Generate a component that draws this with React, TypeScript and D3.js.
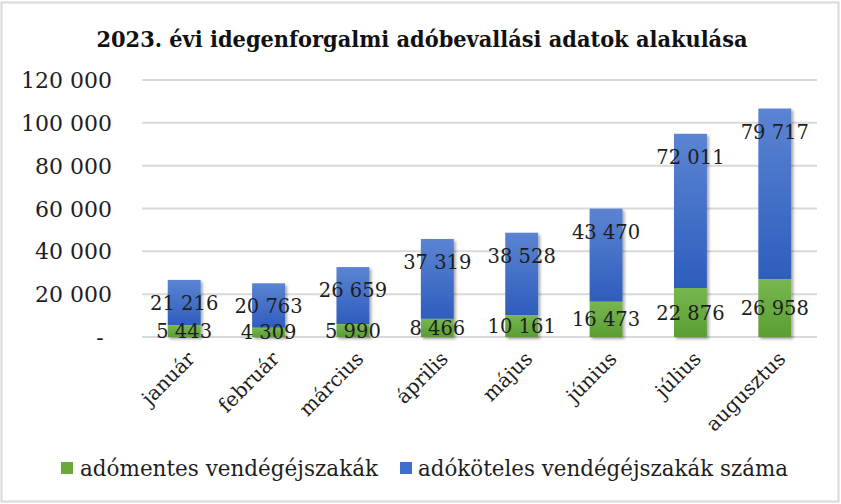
import React from "react";
import * as d3 from "d3";

const categories = ["január", "február", "március", "április", "május", "június", "július", "augusztus"];
const exemptNights = [5443, 4309, 5990, 8466, 10161, 16473, 22876, 26958];
const taxableNights = [21216, 20763, 26659, 37319, 38528, 43470, 72011, 79717];
const yTicks = [0, 20000, 40000, 60000, 80000, 100000, 120000];
const seriesNames = ["adómentes vendégéjszakák", "adóköteles vendégéjszakák száma"];
const title = "2023. évi idegenforgalmi adóbevallási adatok alakulása";

const W = 841;
const H = 504;
const FONT = "'DejaVu Serif', 'Liberation Serif', serif";
const TXT = "#1e1e1e";

const fmt = (v: number) => {
  const s = String(v);
  return s.replace(/\B(?=(\d{3})+(?!\d))/g, " ");
};

export default function App() {
  const x = d3.scaleBand<string>().domain(categories).range([142, 817]).paddingInner(0.61).paddingOuter(0.305);
  const y = d3.scaleLinear().domain([0, 120000]).range([337, 80]);
  const bw = x.bandwidth();

  return (
    <div style={{ position: "absolute", left: 0, top: 0 }}>
      <svg width={W} height={H} style={{ display: "block", background: "#fff" }}>
        <defs>
          <linearGradient id="gBlue" x1="0" y1="0" x2="0" y2="1">
            <stop offset="0%" stopColor="#5b84d2" />
            <stop offset="100%" stopColor="#2e5dbd" />
          </linearGradient>
          <linearGradient id="gGreen" x1="0" y1="0" x2="0" y2="1">
            <stop offset="0%" stopColor="#78b651" />
            <stop offset="100%" stopColor="#5a9e31" />
          </linearGradient>
          <filter id="shadow" x="-30%" y="-10%" width="160%" height="130%">
            <feGaussianBlur in="SourceAlpha" stdDeviation="1.6" />
            <feOffset dx="1.5" dy="1.5" result="b" />
            <feComponentTransfer>
              <feFuncA type="linear" slope="0.35" />
            </feComponentTransfer>
            <feMerge>
              <feMergeNode />
              <feMergeNode in="SourceGraphic" />
            </feMerge>
          </filter>
        </defs>
        <rect x={1.5} y={2.5} width={837} height={499} fill="#fff" stroke="#d9d9d9" strokeWidth={2} />

        <text x={422} y={47} textAnchor="middle" fontFamily={FONT} fontWeight="bold" fontSize={22}
          fill="#111" textLength={651} lengthAdjust="spacingAndGlyphs">{title}</text>

        {yTicks.map((t) => (
          <g key={t}>
            <line x1={142} x2={817} y1={y(t)} y2={y(t)} stroke="#d9d9d9" strokeWidth={2} />
            <text x={t === 0 ? 100 : 112} y={y(t) + 8} textAnchor={t === 0 ? "middle" : "end"} fontFamily={FONT}
              fontSize={22} fill={TXT}>{t === 0 ? "-" : fmt(t)}</text>
          </g>
        ))}

        {categories.map((c, i) => {
          const x0 = x(c) as number;
          const yg = y(exemptNights[i]);
          const yt = y(exemptNights[i] + taxableNights[i]);
          return (
            <g key={c} filter="url(#shadow)">
              <rect x={x0} y={yt} width={bw} height={yg - yt} fill="url(#gBlue)" />
              <rect x={x0} y={yg} width={bw} height={y(0) - yg} fill="url(#gGreen)" />
            </g>
          );
        })}

        {categories.map((c, i) => {
          const cx = (x(c) as number) + bw / 2;
          const yg = y(exemptNights[i]);
          const yt = y(exemptNights[i] + taxableNights[i]);
          return (
            <g key={c + "l"} fontFamily={FONT} fontSize={19.5} fill={TXT} textAnchor="middle">
              <text x={cx} y={(yg + y(0)) / 2 + 7}>{fmt(exemptNights[i])}</text>
              <text x={cx} y={yt + 30}>{fmt(taxableNights[i])}</text>
            </g>
          );
        })}

        {categories.map((c) => {
          const cx = (x(c) as number) + bw / 2;
          return (
            <text key={c + "c"} transform={`translate(${cx + 7},${355}) rotate(-45)`} textAnchor="end"
              fontFamily={FONT} fontSize={20} fill={TXT} dy="0.35em">{c}</text>
          );
        })}

        <rect x={61} y={462} width={12} height={12} fill="#6aa83c" />
        <text x={80} y={476} fontFamily={FONT} fontSize={22} fill={TXT} textLength={298}
          lengthAdjust="spacingAndGlyphs">{seriesNames[0]}</text>
        <rect x={400} y={462} width={12} height={12} fill="#3f6fcc" />
        <text x={418} y={476} fontFamily={FONT} fontSize={22} fill={TXT} textLength={370}
          lengthAdjust="spacingAndGlyphs">{seriesNames[1]}</text>
      </svg>
    </div>
  );
}
